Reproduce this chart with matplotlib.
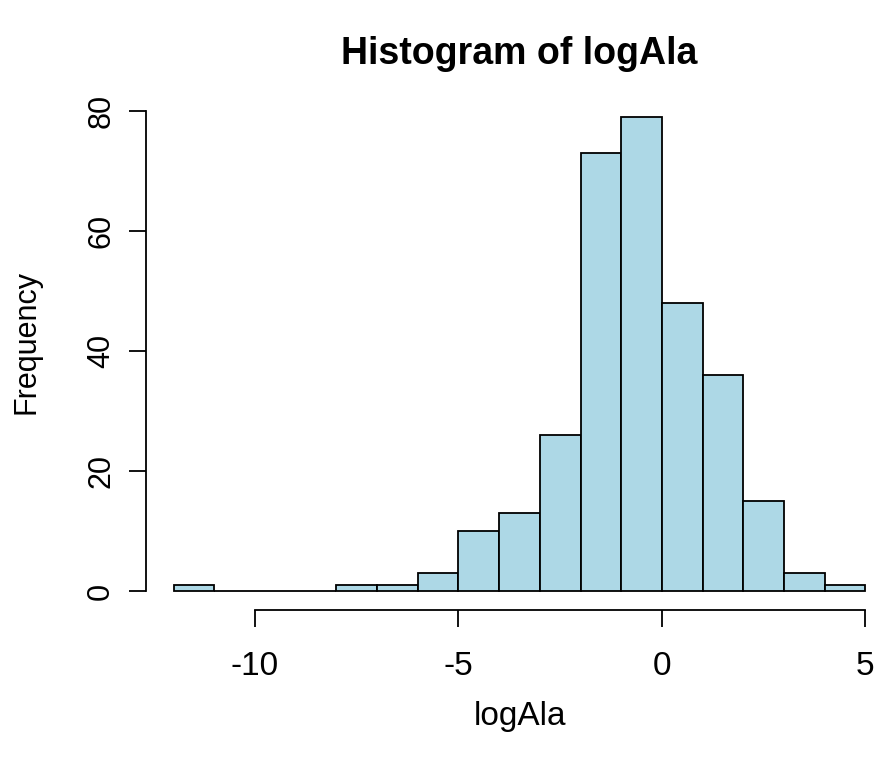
import matplotlib.pyplot as plt

plt.rcParams['font.family'] = ['Liberation Sans', 'DejaVu Sans']
plt.rcParams['axes.unicode_minus'] = False

# histogram of logAla, unit-width bins from -12 to 5
bin_left = [-12, -11, -10, -9, -8, -7, -6, -5, -4, -3, -2, -1, 0, 1, 2, 3, 4]
counts = [1, 0, 0, 0, 1, 1, 3, 10, 13, 26, 73, 79, 48, 36, 15, 3, 1]
xticks = [-10, -5, 0, 5]
yticks = [0, 20, 40, 60, 80]

W, H = 875, 760
fig = plt.figure(figsize=(W / 100, H / 100), dpi=100)
# plot region in pixels (left, right, top, bottom)
l, r, t, b = 146, 893, 98, 610
ax = fig.add_axes([l / W, (H - b) / H, (r - l) / W, (b - t) / H])

ax.bar(bin_left, counts, width=1, align='edge', color='#ADD8E6',
       edgecolor='black', linewidth=1.3)

# R-style axis ranges: 4% padding on each side
x0, x1 = bin_left[0], bin_left[-1] + 1
pad = 0.04 * (x1 - x0)
ax.set_xlim(x0 - pad, x1 + pad)
ymax = max(counts)
ax.set_ylim(-0.04 * ymax, ymax * 1.04)

for s in ['top', 'right']:
    ax.spines[s].set_visible(False)
ax.spines['bottom'].set_bounds(xticks[0], xticks[-1])
ax.spines['left'].set_bounds(yticks[0], yticks[-1])
for s in ['bottom', 'left']:
    ax.spines[s].set_linewidth(1.3)

ax.set_xticks(xticks)
ax.set_yticks(yticks)
ax.set_yticklabels([str(v) for v in yticks], rotation=90, va='center')
ax.tick_params(axis='both', direction='out', length=12.5, width=1.3)
ax.tick_params(axis='x', pad=17, labelsize=24)
ax.tick_params(axis='y', pad=9, labelsize=22)

fig.text((l + r) / 2 / W, 1 - 64 / H, 'Histogram of logAla', ha='center',
         va='baseline', fontsize=27, fontweight='bold')
fig.text((l + r) / 2 / W, 1 - 725 / H, 'logAla', ha='center', va='baseline',
         fontsize=24)
fig.text(35 / W, 1 - 342 / H, 'Frequency', ha='center', va='baseline',
         fontsize=22, rotation=90, rotation_mode='anchor')

fig.savefig('out.png', dpi=100)
